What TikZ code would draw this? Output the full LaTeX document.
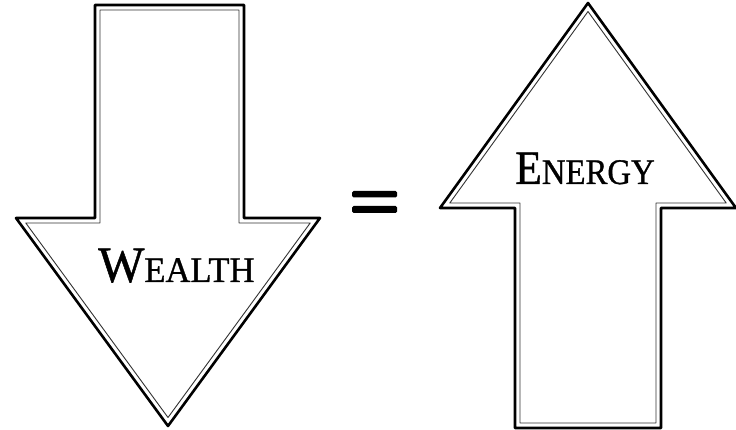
\documentclass[tikz,border=0pt]{standalone}
\usepackage{fontspec}
\setmainfont{Liberation Serif}
\newfontfamily\labelfont[FakeBold=0.9]{Liberation Serif}
\tikzset{
  outerline/.style={draw=black, line width=2.6pt, line join=round, fill=white},
  innerline/.style={draw=black!80, line width=0.9pt, line join=round},
  bar/.style={fill=black, rounded corners=1.5pt},
  label/.style={inner sep=0pt, anchor=base west, font=\labelfont}
}
\begin{document}
\begin{tikzpicture}[x=1pt,y=-1pt]
\useasboundingbox (0,0) rectangle (736,430);
% left arrow (down)
\draw[outerline] (95,5) -- (244,5) -- (244,218) -- (320,218) -- (168,426) -- (16,218) -- (95,218) -- cycle;
\draw[innerline] (100,10) -- (239,10) -- (239,223) -- (310.2,223) -- (168,417.5) -- (25.8,223) -- (100,223) -- cycle;
% right arrow (up)
\draw[outerline] (588,3) -- (736,208) -- (661,208) -- (661,428) -- (515,428) -- (515,208) -- (440,208) -- cycle;
\draw[innerline] (588,11.5) -- (726.2,203) -- (656,203) -- (656,423) -- (520,423) -- (520,203) -- (449.8,203) -- cycle;
% equals sign
\fill[bar] (352,191) rectangle (397,197.5);
\fill[bar] (352,206) rectangle (397,213);
% labels
\node[label] (wealth) at (98,282) {\scalebox{0.96}[1]{\fontsize{51}{51}\selectfont W\fontsize{36}{36}\selectfont EALTH}};
\node[label] (energy) at (515,184) {\scalebox{0.91}[1]{\fontsize{48}{48}\selectfont E\fontsize{36}{36}\selectfont NERGY}};
\end{tikzpicture}
\end{document}
